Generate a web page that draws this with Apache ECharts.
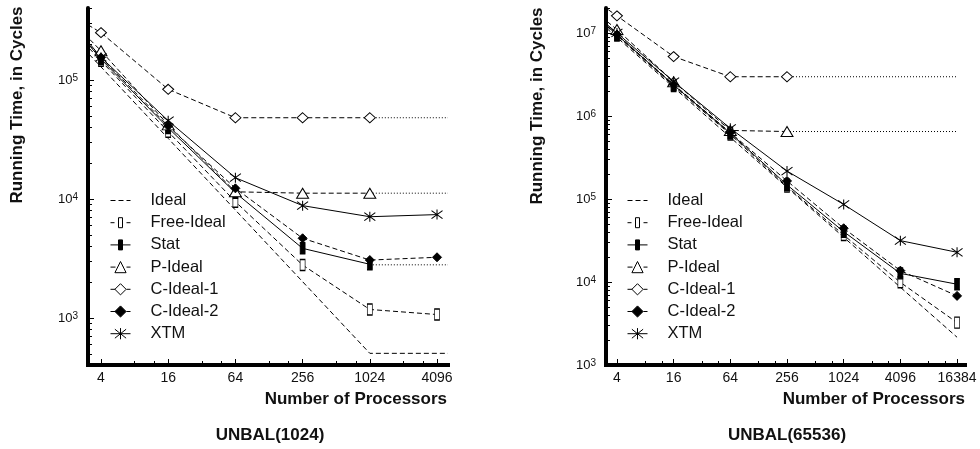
<!DOCTYPE html>
<html><head><meta charset="utf-8">
<script src="https://cdn.jsdelivr.net/npm/echarts@6/dist/echarts.min.js"></script>
<style>html,body{margin:0;padding:0;background:#fff}#c{width:980px;height:449px}</style>
</head><body><div id="c"></div>
<script>
// ---------- data ----------
const seriesNames = ['Ideal', 'Free-Ideal', 'Stat', 'P-Ideal', 'C-Ideal-1', 'C-Ideal-2', 'XTM'];

// UNBAL(1024)
const procsL = [2, 4, 16, 64, 256, 1024, 4096];
const idealL     = [2.58e5, 1.29e5, 3.23e4, 8.08e3, 2.02e3, 505, 505];
const freeIdealL = [2.9e5, 1.45e5, 3.68e4, 9.5e3, 2.79e3, 1.18e3, 1.07e3];
const statL      = [3.2e5, 1.5e5, 3.96e4, 1.13e4, 3.85e3, 2.83e3, null];
const pIdealL    = [3.4e5, 1.76e5, 4.2e4, 1.15e4, 1.12e4, 1.12e4, null];
const cIdeal1L   = [3.7e5, 2.5e5, 8.36e4, 4.82e4, 4.82e4, 4.82e4, null];
const cIdeal2L   = [3.1e5, 1.55e5, 4.1e4, 1.23e4, 4.68e3, 3.07e3, 3.24e3];
const xtmL       = [3.4e5, 1.55e5, 4.55e4, 1.51e4, 8.8e3, 7.1e3, 7.4e3];
const idealPlateauL = 505;
const tailFromL = 1024;
const tailNamesL  = ['C-Ideal-1', 'P-Ideal', 'Stat'];
const tailValuesL = [4.82e4, 1.12e4, 2.8e3];

// UNBAL(65536)
const procsR = [2, 4, 16, 64, 256, 1024, 4096, 16384];
const idealR     = [1.77e7, 8.85e6, 2.21e6, 5.53e5, 1.38e5, 3.46e4, 8.64e3, 2.16e3];
const freeIdealR = [1.9e7, 9.3e6, 2.3e6, 6.0e5, 1.41e5, 3.68e4, 9.9e3, 3.24e3];
const statR      = [1.9e7, 9.5e6, 2.36e6, 6.2e5, 1.48e5, 4.04e4, 1.27e4, 9.4e3];
const pIdealR    = [2.1e7, 1.1e7, 2.59e6, 6.7e5, 6.5e5, null, null, null];
const cIdeal1R   = [2.8e7, 1.61e7, 5.2e6, 2.97e6, 2.97e6, null, null, null];
const cIdeal2R   = [1.9e7, 9.6e6, 2.4e6, 6.3e5, 1.65e5, 4.44e4, 1.37e4, 6.8e3];
const xtmR       = [1.95e7, 1.0e7, 2.6e6, 7.1e5, 2.17e5, 8.6e4, 3.15e4, 2.28e4];
const tailFromR = 256;
const tailToR = 16384;
const tailNamesR  = ['C-Ideal-1', 'P-Ideal'];
const tailValuesR = [2.97e6, 6.5e5];

// axes extents and tick labels
const xMinL = 3.06, xMaxL = 5137, yMinL = 403, yMaxL = 4.03e5;
const xMinR = 3.06, xMaxR = 19900, yMinR = 1000, yMaxR = 2.0e7;
const xTicksL = [4, 16, 64, 256, 1024, 4096];
const xTicksR = [4, 16, 64, 256, 1024, 4096, 16384];
const yTicksL = [1e3, 1e4, 1e5];
const yTicksR = [1e3, 1e4, 1e5, 1e6, 1e7];

const titleL = 'UNBAL(1024)';
const titleR = 'UNBAL(65536)';
const yTitle = 'Running Time, in Cycles';
const xTitle = 'Number of Processors';

// ---------- styling ----------
const FONT = '"Liberation Sans", Arial, Helvetica, sans-serif';
const INK = '#000';
const RECT = 'path://M0,0L4,0L4,10L0,10Z';
const STAR = 'path://M0,-5L0,5M-5.5,-4L5.5,4M-5.5,4L5.5,-4';
const DASH = [5, 3];
const styles = {
  'Ideal':     {symbol: 'none', size: 1, fill: INK, dash: DASH, hideLegendSymbol: true},
  'Free-Ideal':{symbol: RECT, size: [5, 11], fill: '#fff', dash: DASH,
                icon: 'path://M0,7L4,7M16,7L20,7M8,2L12,2L12,12L8,12Z'},
  'Stat':      {symbol: RECT, size: [5, 11], fill: INK, dash: 'solid',
                icon: 'path://M0,7L20,7M8,2L12,2L12,12L8,12Z'},
  'P-Ideal':   {symbol: 'triangle', size: [12, 10], fill: '#fff', dash: DASH},
  'C-Ideal-1': {symbol: 'diamond', size: [11, 10], fill: '#fff', dash: DASH},
  'C-Ideal-2': {symbol: 'diamond', size: [9, 9], fill: INK, dash: DASH},
  'XTM':       {symbol: STAR, size: [11, 10], fill: INK, dash: 'solid'}
};

const valuesL = [idealL, freeIdealL, statL, pIdealL, cIdeal1L, cIdeal2L, xtmL];
const valuesR = [idealR, freeIdealR, statR, pIdealR, cIdeal1R, cIdeal2R, xtmR];

function pairs(xs, ys) {
  const out = [];
  xs.forEach((x, i) => { if (ys[i] != null) out.push([x, ys[i]]); });
  return out;
}

function mainSeries(name, data, axisIdx) {
  const s = styles[name];
  return {
    type: 'line', name, data, xAxisIndex: axisIdx, yAxisIndex: axisIdx,
    symbol: s.symbol, symbolSize: s.size, showSymbol: s.symbol !== 'none',
    lineStyle: {color: INK, width: 1, type: s.dash},
    itemStyle: {color: s.fill, borderColor: INK, borderWidth: 1},
    emphasis: {disabled: true}, silent: true, z: 3
  };
}
function tailSeries(name, data, axisIdx, dash) {
  return {
    type: 'line', name: name + ' (limit)', data, xAxisIndex: axisIdx, yAxisIndex: axisIdx,
    symbol: 'none', showSymbol: false,
    lineStyle: {color: INK, width: 1, type: dash || [1, 2]},
    emphasis: {disabled: true}, silent: true, z: 2
  };
}

const series = [];
seriesNames.forEach((n, i) => {
  let d = pairs(procsL, valuesL[i]);
  if (n === 'Ideal') d = d.concat([[xMaxL, idealPlateauL]]);
  series.push(mainSeries(n, d, 0));
});
tailNamesL.forEach((n, i) => series.push(tailSeries(n, [[tailFromL, tailValuesL[i]], [xMaxL, tailValuesL[i]]], 0)));
seriesNames.forEach((n, i) => series.push(mainSeries(n, pairs(procsR, valuesR[i]), 2)));
tailNamesR.forEach((n, i) => series.push(tailSeries(n, [[tailFromR, tailValuesR[i]], [tailToR, tailValuesR[i]]], 2)));

// ---------- axes ----------
function minorX(majors, min, max) {
  const out = [];
  majors.concat([majors[0] / 4]).forEach(m => [2, 3].forEach(k => { const v = m * k; if (v > min && v < max) out.push(v); }));
  return out;
}
function minorY(min, max) {
  const out = [];
  for (let e = Math.floor(Math.log10(min)); e <= Math.ceil(Math.log10(max)); e++) {
    for (let k = 2; k <= 9; k++) { const v = k * Math.pow(10, e); if (v >= min && v <= max) out.push(v); }
  }
  return out;
}
function xAxes(grid, min, max, majors) {
  return [
    {type: 'log', logBase: 2, gridIndex: grid, min, max, position: 'bottom',
     axisLine: {show: true, onZero: false, lineStyle: {color: INK, width: 4, cap: 'square'}},
     axisTick: {show: true, inside: true, length: 6, lineStyle: {color: INK, width: 1}, customValues: majors},
     axisLabel: {show: true, customValues: majors, margin: 6, color: '#111', fontSize: 14, fontFamily: FONT,
                 formatter: v => String(Math.round(v))},
     splitLine: {show: false}, minorTick: {show: false}, minorSplitLine: {show: false}},
    {type: 'log', logBase: 2, gridIndex: grid, min, max, position: 'bottom',
     axisLine: {show: false},
     axisTick: {show: true, inside: true, length: 4, lineStyle: {color: INK, width: 1}, customValues: minorX(majors, min, max)},
     axisLabel: {show: false}, splitLine: {show: false}}
  ];
}
function yAxes(grid, min, max, majors) {
  return [
    {type: 'log', logBase: 10, gridIndex: grid, min, max, position: 'left',
     axisLine: {show: true, onZero: false, lineStyle: {color: INK, width: 4}},
     axisTick: {show: true, inside: true, length: 6, lineStyle: {color: INK, width: 1}, customValues: majors},
     axisLabel: {show: true, customValues: majors, margin: 10, color: '#111', fontFamily: FONT,
                 formatter: v => '{b|10}{s|' + Math.round(Math.log10(v)) + '}',
                 rich: {b: {fontSize: 13, lineHeight: 13, fontFamily: FONT, color: '#111'},
                        s: {fontSize: 10, lineHeight: 10, verticalAlign: 'top', fontFamily: FONT, color: '#111'}}},
     splitLine: {show: false}, minorTick: {show: false}, minorSplitLine: {show: false}},
    {type: 'log', logBase: 10, gridIndex: grid, min, max, position: 'left',
     axisLine: {show: false},
     axisTick: {show: true, inside: true, length: 4, lineStyle: {color: INK, width: 1}, customValues: minorY(min, max)},
     axisLabel: {show: false}, splitLine: {show: false}}
  ];
}

function legendFor(left) {
  return {
    orient: 'vertical', left, top: 192, padding: 0, itemWidth: 20, itemHeight: 14, itemGap: 5.2,
    selectedMode: false,
    textStyle: {fontSize: 16.5, fontFamily: FONT, color: '#111', lineHeight: 14, padding: [0, 0, 0, 15]},
    data: seriesNames.map(n => {
      const s = styles[n];
      const item = {name: n,
                    itemStyle: {color: s.fill, borderColor: INK, borderWidth: 1, opacity: s.hideLegendSymbol ? 0 : 1},
                    lineStyle: {color: INK, width: 1, type: s.dash, opacity: 1}};
      if (s.icon) item.icon = s.icon;
      return item;
    })
  };
}

const textStyle = (extra) => Object.assign({fill: '#111', fontFamily: FONT, fontWeight: 'bold', fontSize: 17}, extra);

const option = {
  animation: false,
  backgroundColor: '#fff',
  grid: [
    {left: 88, top: 8, width: 360, height: 357, containLabel: false, outerBoundsMode: 'none'},
    {left: 606, top: 8, width: 359, height: 357, containLabel: false, outerBoundsMode: 'none'}
  ],
  xAxis: xAxes(0, xMinL, xMaxL, xTicksL).concat(xAxes(1, xMinR, xMaxR, xTicksR)),
  yAxis: yAxes(0, yMinL, yMaxL, yTicksL).concat(yAxes(1, yMinR, yMaxR, yTicksR)),
  legend: [legendFor(110), legendFor(627)],
  series,
  graphic: [
    {type: 'text', x: 17, y: 105, rotation: Math.PI / 2, silent: true,
     style: textStyle({text: yTitle, align: 'center', verticalAlign: 'middle'})},
    {type: 'text', x: 537, y: 106, rotation: Math.PI / 2, silent: true,
     style: textStyle({text: yTitle, align: 'center', verticalAlign: 'middle'})},
    {type: 'text', x: 447, y: 399, silent: true,
     style: textStyle({text: xTitle, align: 'right', verticalAlign: 'middle'})},
    {type: 'text', x: 965, y: 399, silent: true,
     style: textStyle({text: xTitle, align: 'right', verticalAlign: 'middle'})},
    {type: 'text', x: 270, y: 435, silent: true,
     style: textStyle({text: titleL, align: 'center', verticalAlign: 'middle'})},
    {type: 'text', x: 787, y: 435, silent: true,
     style: textStyle({text: titleR, align: 'center', verticalAlign: 'middle'})}
  ]
};

const chart = echarts.init(document.getElementById('c'), null, {renderer: 'canvas'});
chart.setOption(option);
</script>
</body></html>
